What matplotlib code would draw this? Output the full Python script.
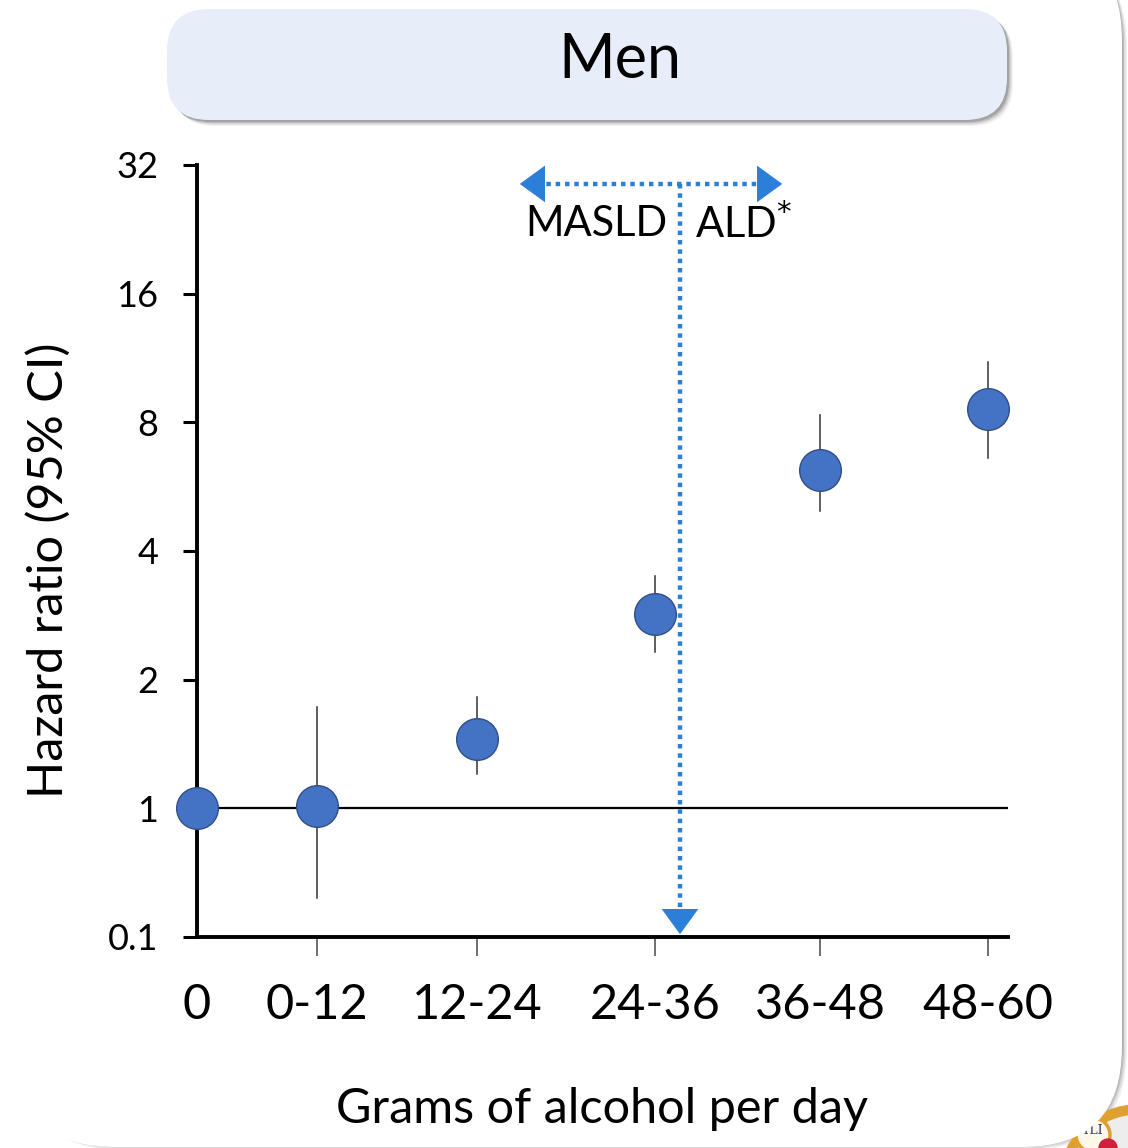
import numpy as np
import matplotlib
matplotlib.use("Agg")
import matplotlib.pyplot as plt
from matplotlib.patches import FancyBboxPatch, Circle, Wedge

plt.rcParams['font.family'] = ['Lato', 'DejaVu Sans']

# ---- data -------------------------------------------------------------
categories = ["0", "0-12", "12-24", "24-36", "36-48", "48-60"]
hazard_ratio = [1.00, 1.01, 1.45, 2.85, 6.2, 8.6]
ci_lower = [np.nan, 0.20, 1.20, 2.32, 4.95, 6.6]
ci_upper = [np.nan, 1.73, 1.82, 3.49, 8.3, 11.1]
y_ticks = [0.1, 1, 2, 4, 8, 16, 32]
y_tick_labels = ["0.1", "1", "2", "4", "8", "16", "32"]

# horizontal placement of the categories along the axis
x_pos = [0, 120, 280, 458, 623, 791]
x_split = 483          # MASLD / ALD threshold marker

W, H = 1128, 1148
fig = plt.figure(figsize=(W / 100, H / 100), dpi=100)

# ---- background card and title box (pixel coordinates) -----------------
bg = fig.add_axes([0, 0, 1, 1], zorder=-5)
bg.set_xlim(0, W)
bg.set_ylim(H, 0)
bg.axis("off")

# card shadow (layered soft edges)
for i, a in enumerate([0.06, 0.09, 0.13, 0.18]):
    off = 7 - i * 1.5
    bg.add_patch(FancyBboxPatch((15 + off, -60 + off), 1107 - 2, 1205 - 2,
                                boxstyle="round,pad=0,rounding_size=100",
                                facecolor="black", edgecolor="none", alpha=a, zorder=1))

# small emblem in the lower right corner
bg.add_patch(Circle((1138, 1185), 80, facecolor="#EDEDED", edgecolor="none", zorder=2))
bg.add_patch(Wedge((1138, 1185), 80, 90, 270, width=9, color="#E0A030", zorder=2))
bg.add_patch(Wedge((1138, 1185), 68, 140, 215, color="#2B3A6B", zorder=2))
bg.add_patch(Circle((1093, 1135), 17, facecolor="#FFF8E8", edgecolor="#E0A030", lw=2.5, zorder=2.5))
bg.text(1093, 1131, "TLI", fontsize=9, family="DejaVu Serif", color="#2B3A6B",
        ha="center", va="center", zorder=2.6)
bg.add_patch(Circle((1108, 1148), 9, color="#D0203A", zorder=2.5))

bg.add_patch(FancyBboxPatch((15, -60), 1107, 1207,
                            boxstyle="round,pad=0,rounding_size=100",
                            facecolor="white", edgecolor="none", zorder=4))

# title box with shadow
for i, a in enumerate([0.05, 0.08, 0.12, 0.16]):
    off = 6 - i * 1.3
    bg.add_patch(FancyBboxPatch((167 + off, 9 + off), 840, 111,
                                boxstyle="round,pad=0,rounding_size=42",
                                facecolor="black", edgecolor="none", alpha=a, zorder=5))
bg.add_patch(FancyBboxPatch((167, 9), 840, 111,
                            boxstyle="round,pad=0,rounding_size=42",
                            facecolor="#E8EEF9", edgecolor="none", zorder=6))
bg.text(620, 60, "Men", fontsize=44, ha="center", va="center", color="black", zorder=7)

# ---- main plot ---------------------------------------------------------
ax = fig.add_axes([197 / W, 1 - 937 / H, (1008 - 197) / W, (937 - 165) / H])
ax.set_facecolor("none")


def fwd(v):
    v = np.clip(np.asarray(v, dtype=float), 1e-6, None)
    return np.where(v >= 1, 1 + np.log2(v), 1 + np.log10(v))


def inv(l):
    l = np.asarray(l, dtype=float)
    return np.where(l >= 1, 2.0 ** (l - 1), 10.0 ** (l - 1))


ax.set_yscale("function", functions=(fwd, inv))
ax.set_ylim(0.1, 32)
ax.set_xlim(0, 811)

ax.set_yticks(y_ticks)
ax.set_yticklabels(y_tick_labels)
ax.minorticks_off()
ax.set_xticks(x_pos)
ax.set_xticklabels(categories)

for s in ["top", "right"]:
    ax.spines[s].set_visible(False)
for s in ["left", "bottom"]:
    ax.spines[s].set_linewidth(2.8)
    ax.spines[s].set_color("black")

ax.tick_params(axis="y", length=10, width=2.2, color="black", pad=18, labelsize=26)
ax.tick_params(axis="x", length=14, width=1.2, color="#555555", pad=19, labelsize=35)
ax.xaxis.get_major_ticks()[0].tick1line.set_visible(False)

# reference line at HR = 1
ax.axhline(1, color="black", lw=1.6, zorder=2)

# confidence intervals
for x, lo, hi in zip(x_pos, ci_lower, ci_upper):
    if np.isfinite(lo):
        ax.plot([x, x], [lo, hi], color="#333333", lw=1.1, zorder=3, clip_on=False)

ax.plot(x_pos, hazard_ratio, "o", ms=30, mfc="#4472C4", mec="#2F4F86",
        mew=1.0, zorder=5, clip_on=False)

# MASLD / ALD threshold marker
blue = "#2B7FD8"
y_arrow = 28.9
ax.plot([x_split, x_split], [y_arrow, 0.113], ls=(0, (1, 1.1)), lw=3.2,
        color=blue, zorder=4, clip_on=False)
ax.plot([340, 566], [y_arrow, y_arrow], ls=(0, (1, 1.1)), lw=3.2,
        color=blue, zorder=4, clip_on=False)
arrow_kw = dict(arrowstyle="-|>,head_length=0.55,head_width=0.4", color=blue, lw=0,
                mutation_scale=33)
ax.annotate("", xy=(x_split, 0.1), xytext=(x_split, 0.14),
            arrowprops=arrow_kw, annotation_clip=False)
ax.annotate("", xy=(320, y_arrow), xytext=(350, y_arrow),
            arrowprops=arrow_kw, annotation_clip=False)
ax.annotate("", xy=(588, y_arrow), xytext=(558, y_arrow),
            arrowprops=arrow_kw, annotation_clip=False)
ax.text(x_split - 13, 23.3, "MASLD", fontsize=30, ha="right", va="center")
ax.text(x_split + 15, 23.3, "ALD$^{*}$", fontsize=30, ha="left", va="center")

ax.set_ylabel("Hazard ratio (95% CI)", fontsize=35)
ax.yaxis.set_label_coords(-0.155, 0.475)
ax.set_xlabel("Grams of alcohol per day", fontsize=35, labelpad=43)

fig.savefig("out.png", dpi=100)
